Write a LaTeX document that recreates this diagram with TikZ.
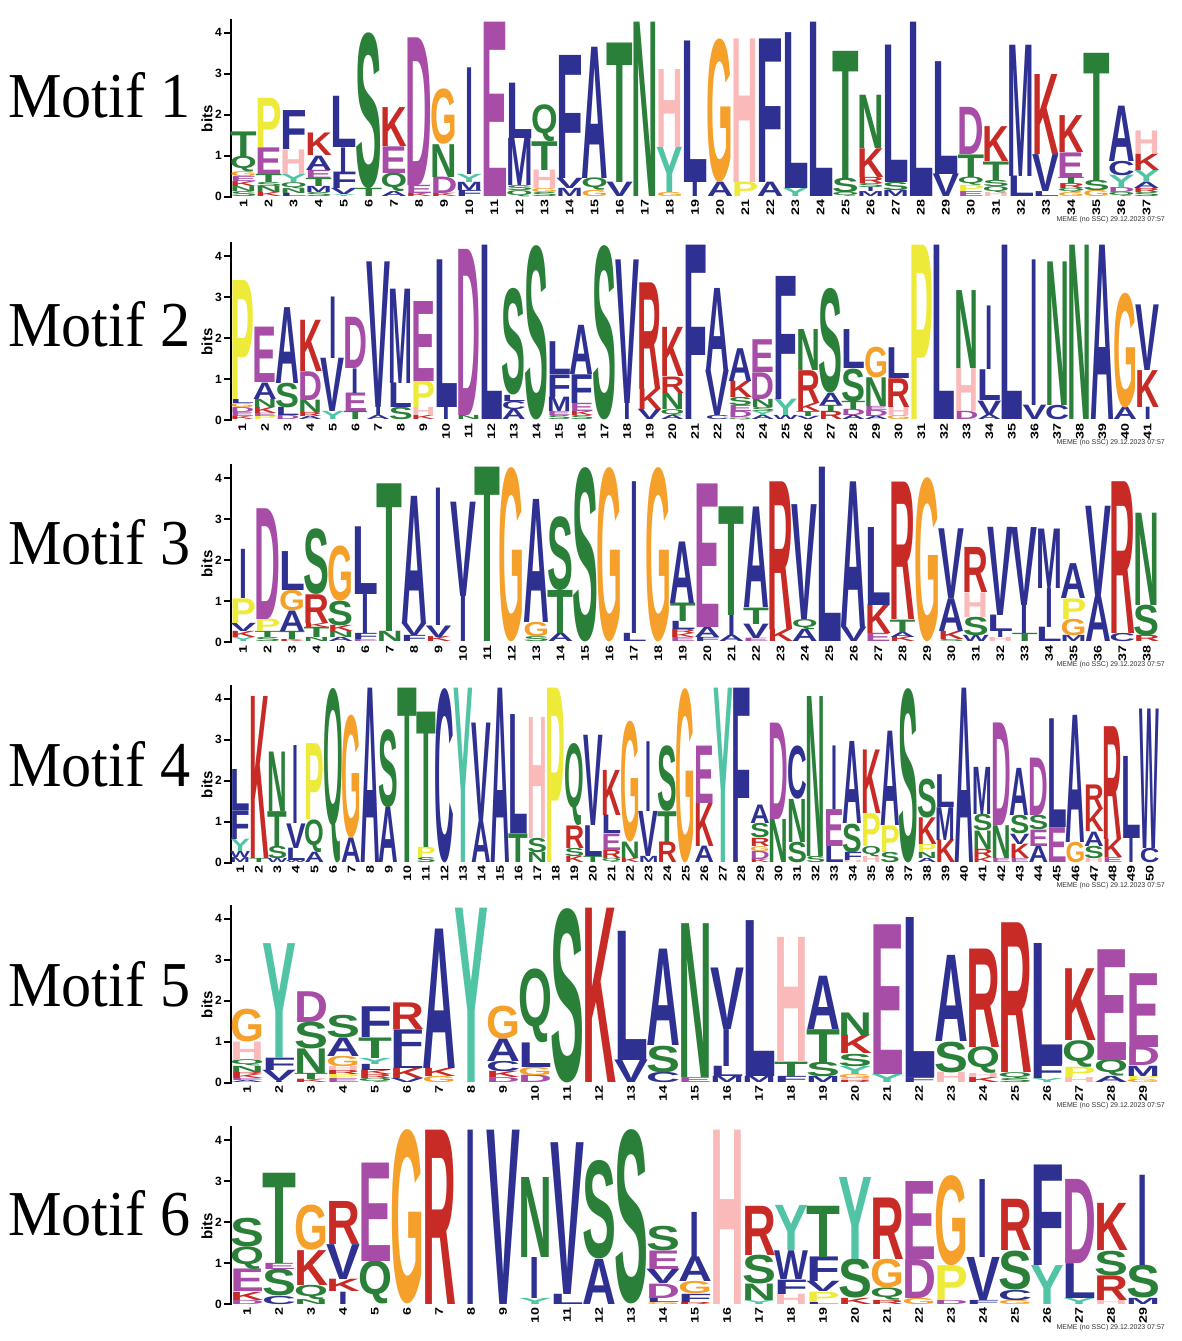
\documentclass[tikz,border=0pt]{standalone}
\usepackage{fontspec}
\setmainfont{Liberation Serif}
\newfontfamily\logofont{Liberation Sans}
\usepackage{graphicx}

\definecolor{lgblue}{RGB}{46,49,146}
\definecolor{lggreen}{RGB}{42,128,56}
\definecolor{lgpurple}{RGB}{167,76,167}
\definecolor{lgred}{RGB}{200,42,38}
\definecolor{lgpink}{RGB}{250,186,186}
\definecolor{lgorange}{RGB}{245,160,42}
\definecolor{lgyellow}{RGB}{238,234,58}
\definecolor{lgteal}{RGB}{82,196,166}
\colorlet{colA}{lgblue}\colorlet{colC}{lgblue}\colorlet{colF}{lgblue}
\colorlet{colI}{lgblue}\colorlet{colL}{lgblue}\colorlet{colM}{lgblue}
\colorlet{colV}{lgblue}\colorlet{colW}{lgblue}
\colorlet{colN}{lggreen}\colorlet{colQ}{lggreen}\colorlet{colS}{lggreen}
\colorlet{colT}{lggreen}
\colorlet{colD}{lgpurple}\colorlet{colE}{lgpurple}
\colorlet{colK}{lgred}\colorlet{colR}{lgred}
\colorlet{colH}{lgpink}\colorlet{colG}{lgorange}
\colorlet{colP}{lgyellow}\colorlet{colY}{lgteal}

\tikzset{
  letter/.style={text=col#1, anchor=south, inner sep=0pt, outer sep=0pt},
  axisline/.style={line width=2pt, line cap=rect},
  ticknum/.style={font=\logofont\bfseries\fontsize{12}{12}\selectfont, anchor=east, inner sep=0pt},
  bitslabel/.style={font=\logofont\bfseries\fontsize{15}{15}\selectfont, rotate=90, inner sep=0pt},
  posnum/.style={font=\logofont\bfseries\fontsize{11}{11}\selectfont, rotate=90, anchor=east, inner sep=0pt},
  memefoot/.style={font=\logofont\fontsize{7}{7}\selectfont, anchor=east, inner sep=0pt, text=black!80},
  motiflabel/.style={font=\fontsize{64}{70}\selectfont, anchor=base west, inner sep=0pt}
}

\def\letI{I}
\newcommand\lettrbox[2]{%
  \edef\tmpl{#1}%
  \ifx\tmpl\letI\def\wfac{0.32}\else\def\wfac{1.06}\fi
  \pgfmathsetmacro\lw{\wfac*\colw}%
  \resizebox*{\lw pt}{#2pt}{\logofont\bfseries #1}}

% #1 motif number, #2 label baseline, #3 logo baseline, #4 columns, #5 stacks (bottom to top)
\newcommand\logopanel[5]{%
  \node[motiflabel] (motif#1) at (8,#2) {\scalebox{0.94}[1]{Motif #1}};
  \scope[shift={(231,#3)}]
    \pgfmathsetmacro\colw{928/#4}
    \path[draw, axisline] (0,0) -- (0,177);
    \foreach \tk in {0,...,4} {
      \path[draw, axisline] (-6,\tk*41) -- (0,\tk*41);
      \node[ticknum] at (-9,\tk*41) {\tk};
    }
    \node[bitslabel] at (-24,78) {bits};
    \foreach \stk [count=\pos] in {#5} {
      \pgfmathsetmacro\xc{(\pos-0.5)*\colw}
      \gdef\ybot{0}
      \foreach \ltr/\hgt in \stk {
        \pgfmathsetmacro\hh{\hgt*41}
        \node[letter=\ltr] at (\xc,\ybot) {\lettrbox{\ltr}{\hh}};
        \pgfmathsetmacro\ynext{\ybot+\hh}
        \xdef\ybot{\ynext}
      }
      \node[posnum] at (\xc,-3) {\scalebox{1.3}[1]{\pos}};
    }
    \node[memefoot] at (934,-23) {MEME (no SSC) 29.12.2023 07:57};
  \endscope}

\begin{document}
\begin{tikzpicture}[x=1pt,y=1pt]
\useasboundingbox (0,0) rectangle (1181,1341);

\logopanel{1}{1223}{1144.3}{37}{
{S/.12,N/.12,K/.12,E/.12,G/.12,Q/.38,T/.6},{K/.1,N/.15,S/.1,T/.2,E/.65,P/1.2},
{L/.08,N/.12,Q/.15,Y/.2,H/.6,F/.95},{S/.1,M/.15,T/.2,E/.2,A/.35,K/.55},
{Y/.05,V/.15,F/.4,I/.6,L/1.25},{T/.2,S/3.8},{A/.12,Q/.45,E/.65,K/.95},
{K/.08,E/.2,D/3.6},{K/.08,D/.4,N/.8,G/1.35},{F/.15,M/.2,Y/.2,I/2.6},
{E/4.25},{Q/.15,S/.12,M/1.15,L/1.35},{S/.1,G/.1,H/.45,T/.7,Q/.9},
{M/.2,V/.25,F/3.0},{G/.15,Q/.3,A/3.2},{V/.35,T/3.4},{N/4.25},
{G/.1,Y/1.1,H/1.9},{I/.35,L/3.45},{A/.35,G/3.5},{P/.35,H/3.5},
{A/.35,F/3.5},{Y/.2,L/3.8},{L/4.25},{Q/.1,S/.35,T/3.1},
{M/.12,I/.1,S/.1,R/.15,K/.7,N/1.3},{M/.15,S/.2,L/3.35},{L/4.25},
{V/.55,L/2.75},{E/.12,P/.15,Q/.2,T/.55,D/1.15},{H/.1,Q/.15,S/.15,T/.45,K/.85},
{L/.5,M/3.2},{L/.12,V/.9,K/1.95},{G/.1,Q/.1,R/.12,T/.15,E/.6,K/.9},
{G/.15,S/.25,T/3.1},{Q/.1,D/.12,Y/.3,C/.35,A/1.35},{S/.1,R/.1,A/.15,Y/.3,K/.4,H/.55}}

\logopanel{2}{994}{921}{41}{
{K/.08,E/.1,D/.12,G/.1,L/.1,P/2.9},{P/.08,E/.08,K/.15,N/.2,A/.4,E/1.35},
{D/.1,L/.2,S/.6,A/1.85},{A/.08,R/.1,N/.3,D/.7,K/1.25},{Y/.2,V/1.3,I/1.5},
{T/.2,E/.45,I/.6,D/1.25},{A/.1,I/.2,V/3.55},{S/.3,L/.6,M/2.3},
{K/.1,H/.2,P/.65,E/1.95},{I/.3,L/3.6},{N/.1,D/4.05},{L/4.25},
{A/.25,C/.2,L/.15,S/2.6},{S/4.25},{S/.1,E/.1,M/.35,F/.55,L/.8},
{S/.1,K/.1,E/.2,F/.7,A/1.2},{S/4.25},{I/.4,V/3.5},{V/.25,K/.5,R/2.6},
{A/.1,Q/.15,N/.4,R/.4,K/1.2},{F/4.25},{C/.1,V/1.1,A/2.0},
{Q/.05,D/.15,E/.15,S/.2,K/.4,A/.8},{A/.1,Y/.1,S/.1,N/.2,D/.65,E/.8},
{W/.1,Y/.4,F/3.0},{V/.08,T/.12,K/.2,R/.8,N/1.0},{R/.2,T/.15,A/.3,S/2.55},
{A/.1,D/.15,T/.2,S/.8,L/.95},{A/.08,D/.15,E/.1,N/.7,G/.75},{G/.1,H/.2,R/.7,L/.75},
{P/4.25},{L/4.25},{D/.2,H/1.05,N/1.9},{A/.12,V/.35,L/.75,I/1.55},{L/4.25},
{V/.35,I/3.55},{C/.35,N/3.5},{N/4.25},{A/4.25},{A/.3,G/2.8},{I/.3,K/.9,V/1.6}}

\logopanel{3}{776}{699}{38}{
{Y/.1,K/.15,V/.2,P/.6,I/1.2},{S/.1,T/.15,P/.3,D/2.7},{K/.05,T/.2,A/.5,G/.5,L/.95},
{N/.1,T/.25,K/.1,R/.7,S/1.6},{A/.1,N/.15,K/.15,S/.6,G/1.35},{E/.05,F/.15,I/.95,L/1.65},
{N/.25,T/3.6},{F/.15,V/.3,A/3.1},{K/.12,V/.28,I/3.35},{I/1.1,V/2.3},{T/4.25},
{G/4.25},{S/.12,G/.35,A/3.0},{A/.2,T/1.05,S/1.8},{S/4.25},{G/4.25},{L/.2,I/3.7},
{G/4.25},{E/.1,K/.1,R/.1,L/.2,T/.45,A/1.5},{F/.1,A/.25,E/3.5},{A/.15,I/.5,T/2.65},
{E/.08,V/.35,T/.4,A/2.45},{K/.3,R/3.6},{A/.3,Q/.25,V/2.8},{L/4.25},{V/.35,A/3.55},
{E/.2,K/.7,L/1.9},{K/.12,A/.12,T/.3,R/3.35},{G/4.0},{S/.05,K/.2,A/.8,V/1.7},
{W/.15,S/.45,H/.6,R/1.1},{H/.1,I/.15,L/.4,V/2.15},{T/.2,I/.7,V/1.9},
{L/.35,I/.95,M/1.45},{M/.15,G/.4,P/.5,A/.85},{A/1.1,V/2.2},{C/.2,R/3.7},
{R/.15,S/.75,N/2.25}}

\logopanel{4}{554}{478.3}{50}{
{M/.12,W/.15,Y/.3,F/.7,L/1.0},{T/.1,K/3.95},{W/.1,S/.3,T/.85,N/1.45},
{W/.05,L/.3,V/.6,I/1.9},{A/.25,Q/.8,P/1.85},{Q/4.25},{A/.6,G/3.0},{A/4.25},
{A/1.35,S/1.9},{T/4.25},{S/.12,P/.25,T/3.3},{C/4.25},{Y/4.25},{A/1.0,V/2.4},
{A/4.25},{T/.7,L/2.9},{N/.25,S/.35,H/2.95},{P/4.25},{K/.15,S/.2,R/.55,Q/2.0},
{T/.15,L/.75,V/2.2},{Q/.1,R/.2,E/.4,L/.45,K/1.1},{K/.1,N/.4,G/2.95},
{M/.15,V/1.1,I/1.7},{R/.5,T/.75,S/1.6},{G/4.25},{A/.4,K/1.05,E/1.4},{Y/4.25},
{F/4.25},{K/.08,D/.2,G/.12,R/.2,S/.35,A/.45},{N/1.05,D/2.35},{S/.5,N/1.05,C/1.3},
{S/.15,N/3.9},{L/.4,E/.9,I/1.55},{H/.05,F/.2,S/.7,A/2.0},{H/.15,Q/.25,P/.8,K/1.55},
{S/.25,P/.65,A/2.3},{S/4.25},{A/.1,N/.15,P/.2,K/.65,S/.95},{K/.55,M/.8,L/.8},
{A/4.25},{K/.12,R/.2,N/.45,S/.4,M/1.15},{E/.1,N/.8,D/2.5},
{E/.1,K/.35,V/.25,S/.45,A/1.15},{A/.4,E/.4,S/.35,D/1.4},{E/.85,L/2.65},
{G/.5,A/3.1},{H/.1,S/.3,A/.35,K/.55,R/.6},{E/.12,K/.45,R/2.75},{I/.6,L/2.0},
{C/.35,W/3.4}}

\logopanel{5}{334}{258.3}{29}{
{A/.05,E/.05,K/.1,R/.05,N/.15,Q/.15,H/.45,G/.8},{I/.05,V/.25,F/.3,Y/2.8},
{K/.08,T/.15,N/.6,S/.65,D/.75},{E/.1,P/.1,R/.1,H/.1,G/.25,A/.45,S/.55},
{Q/.1,R/.1,K/.1,L/.15,Y/.15,T/.5,F/.75},{V/.1,K/.25,L/.3,F/.65,R/.65},
{G/.15,K/.2,A/3.4},{Y/4.25},{D/.12,K/.15,C/.25,A/.55,G/.8},{D/.18,G/.2,L/.6,Q/1.8},
{S/4.25},{K/4.25},{V/.55,L/3.15},{C/.25,S/.65,A/2.35},{E/.12,N/3.75},
{M/.15,L/.25,I/.9,V/1.5},{M/.15,L/3.8},{F/.15,T/.35,H/3.05},{M/.15,S/.35,T/.8,A/1.3},
{R/.05,H/.05,G/.1,Y/.2,S/.3,K/.45,N/.55},{Y/.2,E/3.65},{F/.12,L/3.9},
{H/.25,S/.75,A/2.1},{K/.12,H/.1,Q/.65,R/2.4},{S/.1,Q/.15,R/3.65},{Y/.1,F/.35,L/2.95},
{H/.12,P/.25,Q/.65,K/1.75},{A/.15,Q/.4,E/2.7},{G/.08,P/.08,M/.25,D/.45,E/1.8}}

\logopanel{6}{105}{36.7}{29}{
{D/.1,K/.2,E/.55,Q/.55,S/.7},{C/.2,S/.65,E/.15,T/2.2},{N/.12,Q/.35,K/.85,G/1.1},
{I/.3,K/.3,V/.85,R/1.05},{Q/1.05,E/2.4},{G/4.25},{R/4.25},{I/4.25},{V/4.25},
{Y/.15,I/1.0,N/1.95},{L/.25,V/3.7},{A/1.1,S/2.4},{S/4.25},
{G/.05,L/.1,D/.35,V/.35,E/.45,S/.6},{R/.05,F/.2,G/.3,A/.6,I/1.1},{H/4.25},
{Y/.1,N/.4,S/.7,R/1.2},{H/.25,F/.35,W/.7,Y/1.1},{L/.05,P/.25,V/.25,F/.6,T/1.25},
{K/.15,S/.95,Y/2.0},{R/.1,Q/.3,G/.7,R/1.5},{G/.15,D/.95,E/1.9},{D/.1,P/.85,G/2.2},
{F/.1,V/1.05,I/1.9},{G/.1,C/.25,S/.95,R/1.25},{Y/.95,F/2.45},{Y/.15,L/.85,D/2.05},
{H/.1,R/.6,S/.6,K/1.15},{M/.15,S/.8,I/2.2}}
\end{tikzpicture}
\end{document}
